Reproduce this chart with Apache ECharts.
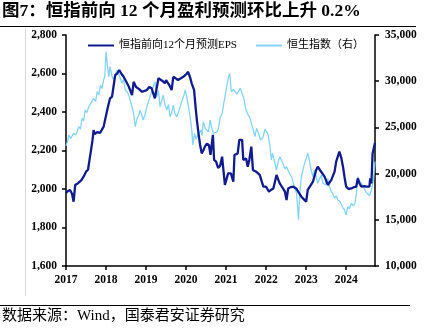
<!DOCTYPE html>
<html><head><meta charset="utf-8">
<script src="https://cdn.jsdelivr.net/npm/echarts@6/dist/echarts.min.js"></script>
<style>html,body{margin:0;padding:0;background:#fff}#c{width:430px;height:333px}</style>
</head><body><div id="c"></div>
<script>
const titleText = '图7：恒指前向 12 个月盈利预测环比上升 0.2%';
const sourceText = '数据来源：Wind，国泰君安证券研究';
const epsName = '恒指前向12个月预测EPS';
const hsiName = '恒生指数（右）';
const yearTicks = [2017, 2018, 2019, 2020, 2021, 2022, 2023, 2024];

const epsX = [2017.00,2017.05,2017.10,2017.15,2017.19,2017.21,2017.23,2017.30,2017.38,2017.44,2017.50,2017.55,2017.60,2017.66,2017.69,2017.72,2017.78,2017.85,2017.94,2018.03,2018.10,2018.15,2018.19,2018.23,2018.28,2018.33,2018.38,2018.44,2018.50,2018.57,2018.65,2018.69,2018.75,2018.82,2018.90,2019.02,2019.08,2019.14,2019.22,2019.28,2019.31,2019.35,2019.42,2019.47,2019.50,2019.58,2019.64,2019.68,2019.74,2019.80,2019.87,2019.93,2020.00,2020.05,2020.10,2020.14,2020.20,2020.24,2020.27,2020.31,2020.35,2020.39,2020.43,2020.47,2020.52,2020.57,2020.61,2020.67,2020.70,2020.75,2020.80,2020.85,2020.90,2020.93,2020.97,2021.05,2021.12,2021.18,2021.21,2021.29,2021.33,2021.40,2021.43,2021.50,2021.54,2021.58,2021.63,2021.67,2021.75,2021.84,2021.93,2022.00,2022.07,2022.12,2022.18,2022.26,2022.30,2022.34,2022.40,2022.47,2022.51,2022.55,2022.62,2022.68,2022.75,2022.80,2022.88,2022.95,2023.00,2023.04,2023.10,2023.17,2023.25,2023.29,2023.34,2023.38,2023.46,2023.54,2023.63,2023.71,2023.75,2023.83,2023.88,2023.92,2023.96,2024.00,2024.06,2024.13,2024.20,2024.25,2024.29,2024.33,2024.38,2024.45,2024.50,2024.58,2024.60,2024.63,2024.66,2024.72];
const epsValues = [1979,1990,1995,1975,1934,1940,2021,2030,2045,2064,2090,2100,2168,2250,2306,2285,2295,2291,2324,2410,2471,2480,2470,2592,2600,2618,2600,2583,2560,2531,2488,2557,2530,2520,2505,2514,2530,2523,2471,2540,2575,2566,2560,2549,2566,2540,2514,2583,2575,2566,2575,2583,2595,2609,2580,2549,2514,2420,2358,2289,2230,2185,2200,2220,2235,2229,2177,2281,2151,2142,2110,2120,2168,2159,2021,2081,2081,2038,2177,2185,2255,2255,2151,2159,2116,2151,2220,2099,2090,2073,2012,2012,1986,1995,2003,2073,2050,2029,2010,1986,1943,2003,2010,2012,2003,1986,1960,1945,1934,1995,2015,2038,2099,2116,2100,2090,2064,2021,2047,2090,2142,2194,2160,2116,2060,2012,2000,2003,2010,2012,2055,2030,2012,2015,2012,2012,2055,2029,2185,2240];

const hsiX = [2017.00,2017.04,2017.07,2017.12,2017.19,2017.25,2017.32,2017.36,2017.40,2017.44,2017.48,2017.52,2017.57,2017.62,2017.69,2017.74,2017.78,2017.82,2017.86,2017.90,2017.94,2017.97,2018.00,2018.04,2018.07,2018.10,2018.15,2018.19,2018.24,2018.28,2018.34,2018.40,2018.44,2018.48,2018.53,2018.57,2018.61,2018.65,2018.69,2018.73,2018.78,2018.82,2018.85,2018.93,2018.97,2019.02,2019.06,2019.10,2019.14,2019.18,2019.22,2019.25,2019.27,2019.31,2019.35,2019.39,2019.43,2019.47,2019.52,2019.56,2019.60,2019.64,2019.68,2019.72,2019.77,2019.83,2019.89,2019.94,2019.98,2020.02,2020.06,2020.10,2020.14,2020.17,2020.21,2020.25,2020.29,2020.33,2020.37,2020.40,2020.43,2020.48,2020.52,2020.56,2020.60,2020.64,2020.68,2020.72,2020.76,2020.80,2020.85,2020.90,2020.93,2021.00,2021.06,2021.09,2021.13,2021.18,2021.22,2021.27,2021.30,2021.35,2021.40,2021.45,2021.49,2021.55,2021.60,2021.63,2021.68,2021.72,2021.76,2021.80,2021.86,2021.92,2021.97,2022.02,2022.05,2022.10,2022.13,2022.16,2022.20,2022.26,2022.30,2022.34,2022.40,2022.43,2022.47,2022.51,2022.55,2022.59,2022.64,2022.68,2022.72,2022.76,2022.79,2022.81,2022.84,2022.88,2022.92,2022.96,2023.04,2023.08,2023.12,2023.17,2023.21,2023.25,2023.29,2023.33,2023.38,2023.42,2023.48,2023.54,2023.58,2023.63,2023.67,2023.71,2023.75,2023.79,2023.84,2023.88,2023.92,2023.96,2024.00,2024.04,2024.08,2024.13,2024.18,2024.22,2024.26,2024.29,2024.33,2024.38,2024.42,2024.46,2024.50,2024.54,2024.58,2024.63,2024.68,2024.72];
const hsiValues = [23000,23500,24177,23800,24360,24200,25075,24800,25985,25700,26880,26600,27240,27600,28150,27800,28870,28500,29590,29200,30130,30500,33200,31500,30490,31570,30500,30130,30800,31210,30500,29770,30200,29050,28800,28510,27800,27240,26500,25075,26000,26340,26880,25800,26300,27240,27800,28320,28900,29400,29950,29000,28320,29000,27240,27900,28500,27500,26880,27500,26160,26600,27420,26500,26160,26900,27780,28400,29050,28200,27240,26160,24800,23100,24360,23700,24180,24400,24720,24100,25620,24900,25075,24500,25800,25000,24360,24200,24500,24720,26000,26500,27300,29050,30490,30850,28870,29100,29050,28600,28690,29230,28700,28000,27000,26340,25985,25440,24700,24000,24900,24500,23640,23900,24800,24500,24200,22800,21470,22200,21500,20390,21300,21830,21300,21110,20500,20750,20300,20390,19600,18950,18300,17870,16200,15000,17870,19660,19800,21110,22200,21470,20500,19660,20390,19700,18950,19400,19840,18950,18800,19480,18600,18040,17800,17330,17600,17150,17000,16790,16300,16070,15520,16430,16200,16790,16500,16790,18000,19660,19200,18950,18600,18400,18000,17870,17600,18230,19300,21290];

const epsData = epsX.map((x, i) => [x, epsValues[i]]);
const hsiData = hsiX.map((x, i) => [x, hsiValues[i]]);

const serif = "'Liberation Serif','Times New Roman','Noto Sans CJK SC',serif";
const cjk = "'Liberation Serif','Noto Sans CJK SC',serif";
const fmt = v => String(v).replace(/\B(?=(\d{3})+(?!\d))/g, ',');

const chart = echarts.init(document.getElementById('c'), null, {renderer: 'canvas'});
chart.setOption({
  animation: false,
  backgroundColor: '#fff',
  grid: {left: 66, right: 55, top: 35, bottom: 67, containLabel: false},
  legend: {
    left: 87, top: 40, padding: 0, itemGap: 18, itemWidth: 26, itemHeight: 10,
    itemStyle: {opacity: 0, borderWidth: 0},
    textStyle: {fontFamily: cjk, fontSize: 11, color: '#000'},
    data: [epsName, hsiName]
  },
  graphic: [
    {type: 'text', left: 2, top: 3, style: {text: titleText, font: "bold 17.5px " + cjk, fill: '#000'}},
    {type: 'rect', shape: {x: 0, y: 26, width: 416, height: 1}, style: {fill: '#000'}},
    {type: 'rect', shape: {x: 25, y: 28, width: 1, height: 268}, style: {fill: '#d8d8d8'}},
    {type: 'rect', shape: {x: 0, y: 305, width: 410, height: 1}, style: {fill: '#000'}},
    {type: 'text', left: 2, top: 309, style: {text: sourceText, font: "15px " + cjk, fill: '#000'}}
  ],
  xAxis: {
    type: 'value', min: 2017, max: 2024.72, interval: 1,
    axisLine: {lineStyle: {color: '#000', width: 1.5}},
    axisTick: {show: true, length: 4, lineStyle: {color: '#000', width: 1.5}},
    splitLine: {show: false},
    axisLabel: {margin: 8, fontFamily: serif, fontWeight: 'bold', fontSize: 11.5, color: '#000',
      showMaxLabel: false,
      formatter: v => Math.abs(v - Math.round(v)) < 1e-6 ? String(Math.round(v)) : ''}
  },
  yAxis: [
    {type: 'value', min: 1600, max: 2800, interval: 200, position: 'left',
     axisLine: {show: true, lineStyle: {color: '#000', width: 1.5}},
     axisTick: {show: true, length: 4, lineStyle: {color: '#000', width: 1.5}},
     splitLine: {show: false},
     axisLabel: {margin: 9, fontFamily: serif, fontWeight: 'bold', fontSize: 11.5, color: '#000', formatter: fmt}},
    {type: 'value', min: 10000, max: 35000, interval: 5000, position: 'right',
     axisLine: {show: true, lineStyle: {color: '#000', width: 1.5}},
     axisTick: {show: true, length: 4, lineStyle: {color: '#000', width: 1.5}},
     splitLine: {show: false},
     axisLabel: {margin: 10, fontFamily: serif, fontWeight: 'bold', fontSize: 11.5, color: '#000', formatter: fmt}}
  ],
  series: [
    {name: hsiName, type: 'line', yAxisIndex: 1, data: hsiData, symbol: 'none',
     lineStyle: {color: '#84D4F5', width: 1.3}, itemStyle: {color: '#84D4F5'}, z: 2},
    {name: epsName, type: 'line', yAxisIndex: 0, data: epsData, symbol: 'none',
     lineStyle: {color: '#0F1B8E', width: 2.3}, itemStyle: {color: '#0F1B8E'}, z: 3}
  ]
});
</script></body></html>
